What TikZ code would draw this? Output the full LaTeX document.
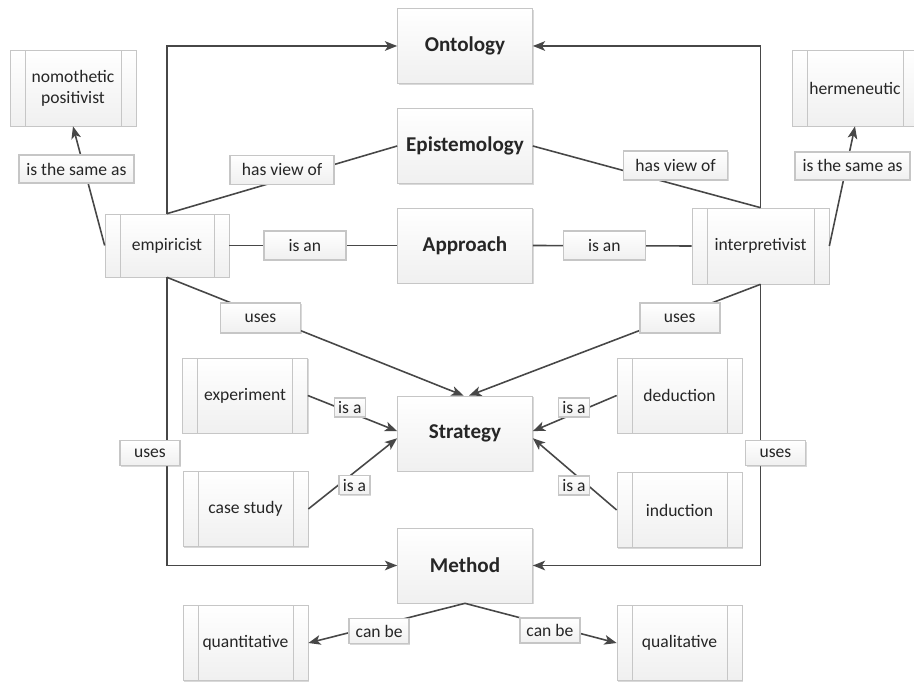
\documentclass[tikz,border=0pt]{standalone}
\usepackage{fontspec}
\setmainfont{Carlito}
\usepackage{tikz}
\usetikzlibrary{arrows.meta, shadows}

\begin{document}
\begin{tikzpicture}[x=0.02cm, y=-0.02cm,
		box/.style={draw=gray!45, top color=white, bottom color=gray!12, text=black!85, inner sep=1pt,
			drop shadow={opacity=.3, shadow xshift=.6pt, shadow yshift=-.6pt}},
		concept/.style={box, minimum width=2.7cm, minimum height=1.5cm, font=\fontsize{12}{14}\selectfont\bfseries},
		proc/.style={box, minimum width=2.5cm, minimum height=1.5cm, align=center, font=\fontsize{10}{12}\selectfont,
			path picture={\draw[gray!45] ([xshift=.3cm]path picture bounding box.north west) -- ([xshift=.3cm]path picture bounding box.south west)
				([xshift=-.3cm]path picture bounding box.north east) -- ([xshift=-.3cm]path picture bounding box.south east);}},
		lbl/.style={box, font=\fontsize{10}{12}\selectfont},
		conn/.style={draw=black!72, line width=.9pt},
		arr/.style={conn, -{Stealth[length=7pt, width=5.5pt, inset=1.8pt]}}]
	\useasboundingbox (0,0) rectangle (914,682);
	% main concepts
	\node [concept] (onto) at (465,46) {Ontology};
	\node [concept] (epi) at (465,146) {Epistemology};
	\node [concept] (appr) at (465,245.5) {Approach};
	\node [concept] (strat) at (465,433.5) {Strategy};
	\node [concept] (meth) at (465,565.5) {Method};
	% positions and choices
	\node [proc, minimum width=2.52cm, minimum height=1.52cm] (nomo) at (73,88) {nomothetic\\positivist};
	\node [proc, minimum width=2.52cm, minimum height=1.52cm] (herm) at (855,88) {hermeneutic};
	\node [proc, minimum width=2.48cm, minimum height=1.26cm] (emp) at (167,245.5) {empiricist};
	\node [proc, minimum width=2.74cm, minimum height=1.52cm] (interp) at (760.5,246) {interpretivist};
	\node [proc] (expe) at (245,395.5) {experiment};
	\node [proc] (dedu) at (679.5,395.5) {deduction};
	\node [proc] (case) at (245.5,509) {case study};
	\node [proc] (indu) at (679.5,510) {induction};
	\node [proc] (quant) at (245.5,643) {quantitative};
	\node [proc] (qual) at (679.5,643) {qualitative};
	% links
	\draw [arr] (emp.north) |- (onto.west);
	\draw [arr] (interp.north) |- (onto.east);
	\draw [conn] (emp.north) -- node [lbl, minimum width=2.08cm, minimum height=.58cm, pos=.5, yshift=.2cm] (view1) {has view of} (epi.west);
	\draw [conn] (epi.east) -- node [lbl, minimum width=2.08cm, minimum height=.58cm, pos=.627, yshift=.38cm] (view2) {has view of} (interp.north);
	\draw [conn] (emp.east) -- node [lbl, minimum width=1.64cm, minimum height=.58cm, pos=.45] (isan1) {is an} (appr.west);
	\draw [conn] (appr.east) -- node [lbl, minimum width=1.64cm, minimum height=.58cm, pos=.45] (isan2) {is an} (interp.west);
	\draw [arr] (emp.west) -- node [lbl, minimum width=2.3cm, minimum height=.56cm, pos=.64, xshift=-.16cm] (same1) {is the same as} (nomo.south);
	\draw [arr] (interp.east) -- node [lbl, minimum width=2.3cm, minimum height=.56cm, pos=.67, xshift=.12cm] (same2) {is the same as} (herm.south);
	\draw [arr] (emp.south) -- node [lbl, minimum width=1.6cm, minimum height=.6cm, pos=.315, yshift=-.07cm] (uses1) {uses} (strat.92);
	\draw [arr] (interp.south) -- node [lbl, minimum width=1.6cm, minimum height=.6cm, pos=.277, yshift=-.06cm] (uses2) {uses} (strat.84);
	\draw [arr] (emp.south) |- node [lbl, minimum width=1.2cm, minimum height=.5cm, pos=.305, xshift=-.34cm] (uses3) {uses} (meth.west);
	\draw [arr] (interp.south) |- node [lbl, minimum width=1.2cm, minimum height=.5cm, pos=.3, xshift=.3cm] (uses4) {uses} (meth.east);
	\draw [arr] (expe.east) -- node [lbl, minimum width=.62cm, minimum height=.38cm, pos=.47, yshift=.1cm] (isa1) {is a} (strat.178);
	\draw [arr] (case.east) -- node [lbl, minimum width=.62cm, minimum height=.38cm, pos=.52, yshift=-.26cm] (isa2) {is a} (strat.184);
	\draw [arr] (dedu.west) -- node [lbl, minimum width=.62cm, minimum height=.38cm, pos=.51, yshift=.12cm] (isa3) {is a} (strat.2);
	\draw [arr] (indu.west) -- node [lbl, minimum width=.62cm, minimum height=.38cm, pos=.51, yshift=-.24cm] (isa4) {is a} (strat.-4);
	\draw [arr] (meth.south) -- node [lbl, minimum width=1.2cm, minimum height=.5cm, pos=.548, yshift=-.12cm] (canbe1) {can be} (quant.east);
	\draw [arr] (meth.south) -- node [lbl, minimum width=1.2cm, minimum height=.5cm, pos=.56, yshift=-.1cm] (canbe2) {can be} (qual.west);
\end{tikzpicture}
\end{document}
